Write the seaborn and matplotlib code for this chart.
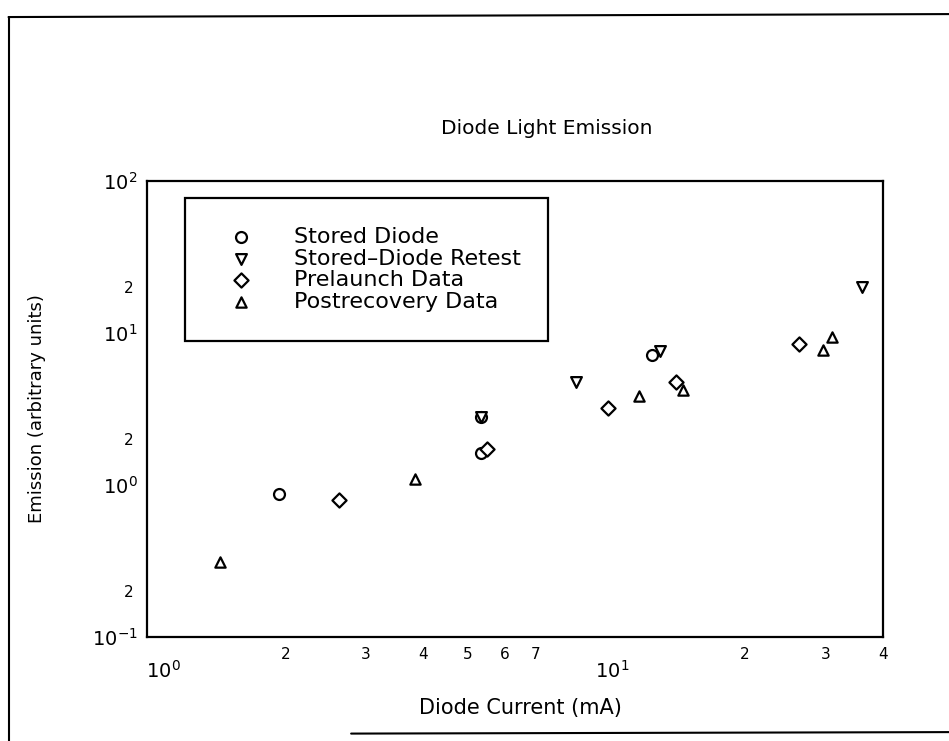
import matplotlib
matplotlib.use("Agg")
import matplotlib.pyplot as plt
import seaborn as sns
import pandas as pd
from matplotlib.lines import Line2D
from matplotlib.patches import Rectangle
from matplotlib.transforms import ScaledTranslation

# valeurs (mA, unites arbitraires)
stored_x = [1.94, 5.33, 5.34, 12.6]
stored_y = [0.87, 2.82, 1.63, 7.15]
retest_x = [5.35, 8.58, 13.1, 36.1]
retest_y = [2.82, 4.76, 7.6, 20.0]
prelaunch_x = [2.62, 5.50, 10.1, 14.2, 26.3]
prelaunch_y = [0.80, 1.72, 3.20, 4.76, 8.50]
postrec_x = [1.44, 3.84, 11.8, 14.7, 29.6, 31.1]
postrec_y = [0.31, 1.10, 3.87, 4.24, 7.72, 9.45]

series_names = ["Stored Diode", "Stored\u2013Diode Retest", "Prelaunch Data", "Postrecovery Data"]

x_major = [1, 10]
x_major_labels = ["$10^{0}$", "$10^{1}$"]
x_minor = [2, 3, 4, 5, 6, 7, 8, 9, 20, 30, 40]
x_minor_labels = ["2", "3", "4", "5", "6", "7", "", "", "2", "3", "4"]
y_major = [0.1, 1, 10, 100]
y_major_labels = ["$10^{-1}$", "$10^{0}$", "$10^{1}$", "$10^{2}$"]
y_minor = [0.2, 0.3, 0.4, 0.5, 0.6, 0.7, 0.8, 0.9,
           2, 3, 4, 5, 6, 7, 8, 9,
           20, 30, 40, 50, 60, 70, 80, 90]
y_minor_labels = ["2", "", "", "", "", "", "", "",
                  "2", "", "", "", "", "", "", "",
                  "2", "", "", "", "", "", "", ""]

df = pd.concat([
    pd.DataFrame({"courant": stored_x, "emission": stored_y, "serie": series_names[0]}),
    pd.DataFrame({"courant": retest_x, "emission": retest_y, "serie": series_names[1]}),
    pd.DataFrame({"courant": prelaunch_x, "emission": prelaunch_y, "serie": series_names[2]}),
    pd.DataFrame({"courant": postrec_x, "emission": postrec_y, "serie": series_names[3]}),
])

sns.set_style("white")
plt.rcParams["font.family"] = ["DejaVu Sans"]
plt.rcParams["text.color"] = "black"
plt.rcParams["axes.labelcolor"] = "black"

fig = plt.figure(figsize=(9.49, 7.41), dpi=100)
ax = fig.add_axes([0.155, 0.140, 0.775, 0.616])

marqueurs = {series_names[0]: ("o", 62), series_names[1]: ("v", 60),
             series_names[2]: ("D", 52), series_names[3]: ("^", 55)}

for nom in series_names:
    m, s = marqueurs[nom]
    sous = df[df["serie"] == nom]
    sns.scatterplot(data=sous, x="courant", y="emission", marker=m, s=s,
                    color="white", edgecolor="black", linewidth=1.6,
                    ax=ax, label=nom, zorder=3)

ax.set_xscale("log")
ax.set_yscale("log")
ax.set_xlim(1, 40)
ax.set_ylim(0.1, 100)

ax.set_xticks(x_major)
ax.set_xticklabels(x_major_labels, fontsize=14)
ax.set_xticks(x_minor, minor=True)
ax.set_xticklabels(x_minor_labels, minor=True, fontsize=11)
ax.set_yticks(y_major)
ax.set_yticklabels(y_major_labels, fontsize=14)
ax.set_yticks(y_minor, minor=True)
ax.set_yticklabels(y_minor_labels, minor=True, fontsize=11)

ax.tick_params(axis="both", which="both", direction="in", top=False, right=False,
               width=1.2, color="black", labelcolor="black")
ax.tick_params(axis="both", which="major", length=9)
ax.tick_params(axis="both", which="minor", length=4)
ax.tick_params(axis="x", which="major", pad=16)
ax.tick_params(axis="x", which="minor", pad=7)
ax.tick_params(axis="y", which="major", pad=7)
ax.tick_params(axis="y", which="minor", pad=10)

# les etiquettes 10^0 et 10^1 sont un peu decalees vers la droite
for lab, dx in zip(ax.get_xticklabels(), [16, 6]):
    lab.set_transform(lab.get_transform() + ScaledTranslation(dx / 100, 0, fig.dpi_scale_trans))

for sp in ax.spines.values():
    sp.set_visible(True)
    sp.set_color("black")
    sp.set_linewidth(1.6)

ax.set_xlabel("Diode Current (mA)", fontsize=15, color="black")
ax.xaxis.set_label_coords(0.508, -0.133)
ax.set_ylabel("Emission (arbitrary units)", fontsize=13, color="black")
ax.yaxis.set_label_coords(-0.137, 0.5)
fig.text(0.576, 0.827, "Diode Light Emission", fontsize=14.5, ha="center", va="center", color="black")

# legende dans un cadre
leg = ax.legend(loc="upper left", bbox_to_anchor=(0.1, 0.918), frameon=False,
                fontsize=16, handletextpad=1.9, labelspacing=0.07,
                borderaxespad=0, handlelength=1.0, labelcolor="black")
ax.add_patch(Rectangle((0.052, 0.648), 0.493, 0.315, transform=ax.transAxes,
                       fill=False, edgecolor="black", linewidth=1.6, zorder=4))

# bordure de la page scannee
fig.add_artist(Line2D([0.009, 0.009], [0.0, 0.977], transform=fig.transFigure, color="black", lw=1.5))
fig.add_artist(Line2D([0.009, 1.0], [0.977, 0.981], transform=fig.transFigure, color="black", lw=1.5))
fig.add_artist(Line2D([0.37, 1.0], [0.010, 0.012], transform=fig.transFigure, color="black", lw=1.5))

fig.savefig("out.png", dpi=100, facecolor="white")
